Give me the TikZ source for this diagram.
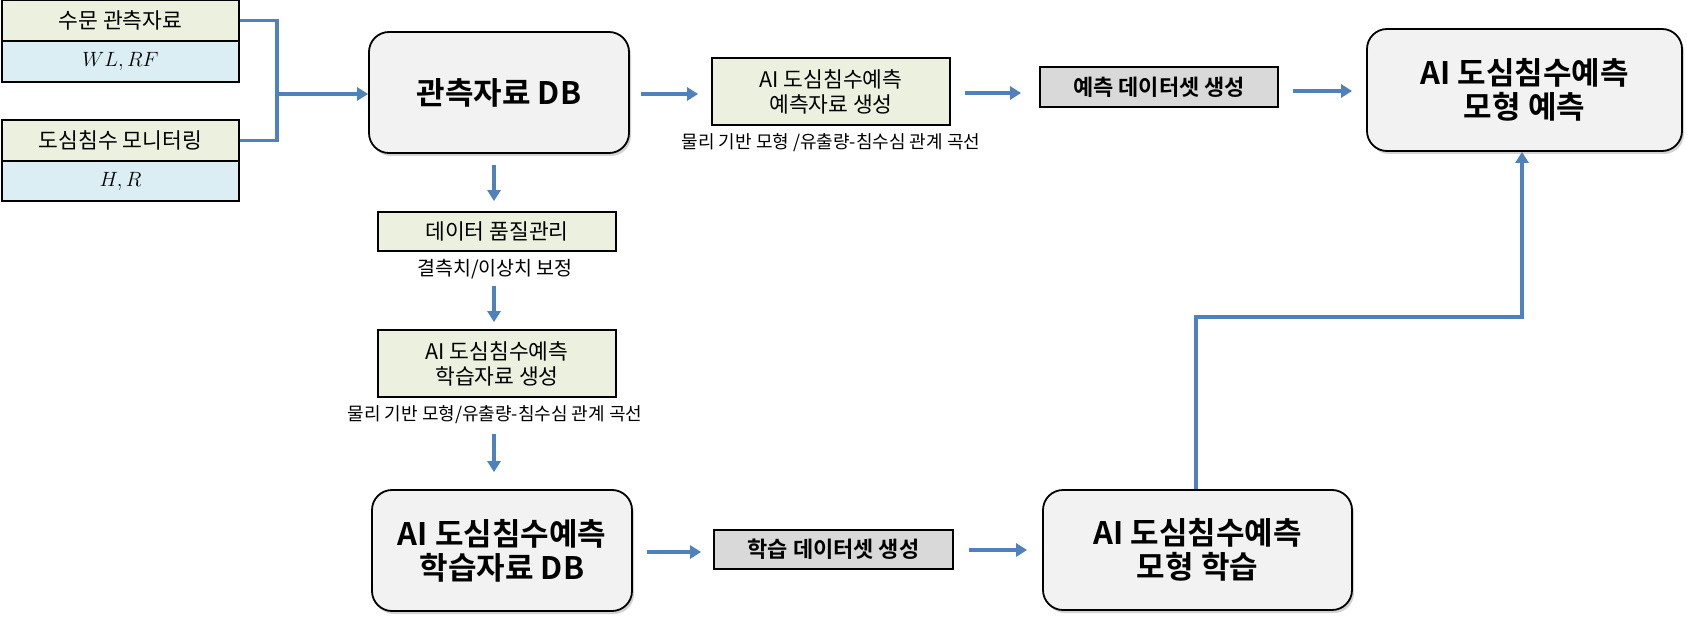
\documentclass[tikz,border=0pt]{standalone}
\usepackage{fontspec}
\setmainfont{Noto Sans CJK KR}[BoldFont={Noto Sans CJK KR Bold}]
\usetikzlibrary{arrows.meta,shadows}
\definecolor{boxgreen}{HTML}{EBF1DE}
\definecolor{boxblue}{HTML}{DAEEF3}
\definecolor{boxgray}{HTML}{D9D9D9}
\definecolor{dbfill}{HTML}{F2F2F2}
\definecolor{arrblue}{HTML}{4F81BD}
\tikzset{
  sq/.style={draw=black, line width=1.8bp, inner sep=0pt, align=center},
  grn/.style={sq, fill=boxgreen, font=\fontsize{21.5bp}{25bp}\selectfont},
  blu/.style={sq, fill=boxblue, font=\fontsize{22bp}{25bp}\selectfont},
  gry/.style={sq, fill=boxgray, font=\bfseries\fontsize{22bp}{25bp}\selectfont},
  rbox/.style={draw=black, line width=1.8bp, fill=dbfill, rounded corners=20bp, align=center,
    inner sep=0pt, font=\bfseries\fontsize{31bp}{34bp}\selectfont,
    drop shadow={shadow xshift=2bp, shadow yshift=-3bp, opacity=0.35}},
  captxt/.style={font=\fontsize{18bp}{21bp}\selectfont, inner sep=0pt},
  conn/.style={draw=arrblue, line width=3.5bp},
  arr/.style={conn, -{Triangle[length=11bp,width=13bp]}},
}
\begin{document}
\begin{tikzpicture}[x=1bp,y=-1bp]
\useasboundingbox (0,0) rectangle (1687,624);
% left inputs
\node[grn, minimum width=237bp, minimum height=41bp] (s1) at (120.5,20.5) {수문 관측자료};
\node[blu, minimum width=237bp, minimum height=41bp] (s1v) at (120.5,61.5) {$WL, RF$};
\node[grn, minimum width=237bp, minimum height=41bp] (s2) at (120.5,140.5) {도심침수 모니터링};
\node[blu, minimum width=237bp, minimum height=40bp] (s2v) at (120.5,181) {$H, R$};
% main boxes
\node[rbox, minimum width=260bp, minimum height=121bp] (db) at (499,92.5) {관측자료 DB};
\node[grn, minimum width=238bp, minimum height=67bp] (pg) at (831,91.5) {AI 도심침수예측\\예측자료 생성};
\node[captxt] (cap1) at (831,143) {물리 기반 모형 /유출량-침수심 관계 곡선};
\node[gry, minimum width=238bp, minimum height=40bp] (pds) at (1159,87) {예측 데이터셋 생성};
\node[rbox, minimum width=315bp, minimum height=122bp] (pm) at (1524.5,90) {AI 도심침수예측\\모형 예측};
\node[grn, minimum width=238bp, minimum height=39bp] (qc) at (497,231.5) {데이터 품질관리};
\node[captxt, font=\fontsize{19.5bp}{22bp}\selectfont] (cap2) at (495,269) {결측치/이상치 보정};
\node[grn, minimum width=238bp, minimum height=67bp] (lg) at (497,363.5) {AI 도심침수예측\\학습자료 생성};
\node[captxt] (cap3) at (495,415) {물리 기반 모형/유출량-침수심 관계 곡선};
\node[rbox, minimum width=260bp, minimum height=121bp] (ldb) at (502,550.5) {AI 도심침수예측\\학습자료 DB};
\node[gry, minimum width=239bp, minimum height=39bp] (lds) at (833.5,549.5) {학습 데이터셋 생성};
\node[rbox, minimum width=309bp, minimum height=120bp] (lm) at (1197.5,550) {AI 도심침수예측\\모형 학습};
% connectors
\coordinate (j) at (277,94);
\coordinate (k) at (1522,317);
\draw[conn] (s1.east) -| (j) |- (s2.east);
\draw[arr] (j) -- (db.west |- j);
\draw[arr, shorten <=11bp, shorten >=13bp] (db.east |- 0,94) -- (pg.west |- 0,94);
\draw[arr, shorten <=14bp, shorten >=18bp] (pg.east |- 0,93) -- (pds.west |- 0,93);
\draw[arr, shorten <=14bp, shorten >=14bp] (pds.east |- 0,91) -- (pm.west |- 0,91);
\draw[arr, shorten <=11bp, shorten >=10bp] (db.south -| 494,0) -- (qc.north -| 494,0);
\draw[arr, shorten <=34bp, shorten >=7bp] (qc.south -| 494,0) -- (lg.north -| 494,0);
\draw[arr, shorten <=36bp, shorten >=17bp] (lg.south -| 494,0) -- (ldb.north -| 494,0);
\draw[arr, shorten <=14bp, shorten >=12bp] (ldb.east |- 0,552) -- (lds.west |- 0,552);
\draw[arr, shorten <=15bp, shorten >=15bp] (lds.east |- 0,550) -- (lm.west |- 0,550);
\draw[arr] (lm.north -| 1196,0) |- (k) -- (pm.south -| k);
\end{tikzpicture}
\end{document}
